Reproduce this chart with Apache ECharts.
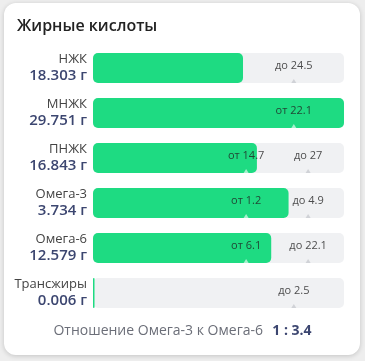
<!DOCTYPE html>
<html>
<head>
<meta charset="utf-8">
<script src="https://cdn.jsdelivr.net/npm/echarts@6/dist/echarts.min.js"></script>
<style>
html,body{margin:0;padding:0;background:#eeeeee;}
#chart{width:365px;height:361px;}
</style>
</head>
<body>
<div id="chart"></div>
<script>
const titleText = 'Жирные кислоты';
const categories = ['НЖК', 'МНЖК', 'ПНЖК', 'Омега-3', 'Омега-6', 'Трансжиры'];
const values = [18.303, 29.751, 16.843, 3.734, 12.579, 0.006];
const unit = 'г';
const lowerBounds = [null, 22.1, 14.7, 1.2, 6.1, null];
const upperBounds = [24.5, null, 27, 4.9, 22.1, 2.5];
const ratioLabel = 'Отношение Омега-3 к Омега-6';
const ratioValue = '1 : 3.4';

// scale positions of norm marks on the track (fraction of track)
function frac(v, lo, hi) {
  let f;
  if (lo != null && hi != null) {
    const pLo = 0.61, pHi = 0.857;
    if (v <= lo) f = v / lo * pLo;
    else if (v <= hi) f = pLo + (v - lo) / (hi - lo) * (pHi - pLo);
    else f = pHi + (v - hi) / hi * (1 - pHi);
  } else {
    const ref = lo != null ? lo : hi;
    f = v / ref * 0.8;
  }
  return Math.min(1, f);
}

const barData = values.map((v, i) => frac(v, lowerBounds[i], upperBounds[i]));
const markData = [];
categories.forEach((c, i) => {
  const lo = lowerBounds[i], hi = upperBounds[i];
  if (lo != null) markData.push({ value: [frac(lo, lo, hi), i], txt: 'от ' + lo, onBar: frac(lo, lo, hi) < barData[i] });
  if (hi != null) markData.push({ value: [frac(hi, lo, hi), i], txt: 'до ' + hi, onBar: frac(hi, lo, hi) < barData[i] });
});

const chart = echarts.init(document.getElementById('chart'), null, { renderer: 'canvas' });
const FONT = '"Open Sans", "Noto Sans", sans-serif';
chart.setOption({
  animation: false,
  textStyle: { fontFamily: FONT },
  graphic: [{
    type: 'rect', z: -10, silent: true,
    shape: { x: 4, y: 3, width: 356, height: 352, r: 12 },
    style: { fill: '#ffffff', shadowBlur: 5, shadowColor: 'rgba(0,0,0,0.18)', shadowOffsetY: 1 }
  }],
  title: [{
    text: titleText, left: 17, top: 18, padding: 0,
    textStyle: { fontFamily: FONT, fontSize: 16, fontWeight: 600, color: '#222222' }
  }, {
    text: '{a|' + ratioLabel + '}  {b|' + ratioValue + '}',
    left: 'center', top: 322, padding: 0,
    textStyle: {
      fontWeight: 'normal',
      rich: {
        a: { fontFamily: FONT, fontSize: 14, fontWeight: 'normal', color: '#6b6e78' },
        b: { fontFamily: FONT, fontSize: 14, fontWeight: 700, color: '#3c4670' }
      }
    }
  }],
  grid: { left: 93, right: 21, top: 45.5, height: 270 },
  xAxis: { type: 'value', min: 0, max: 1, show: false },
  yAxis: {
    type: 'category', data: categories, inverse: true,
    axisLine: { show: false }, axisTick: { show: false },
    axisLabel: {
      margin: 6, align: 'right',
      formatter: (c, i) => '{n|' + c + '}\n{v|' + values[i].toFixed(3) + ' ' + unit + '}',
      rich: {
        n: { fontFamily: FONT, fontSize: 13, color: '#444444', lineHeight: 16, align: 'right' },
        v: { fontFamily: FONT, fontSize: 15, fontWeight: 600, color: '#3c4670', lineHeight: 17, align: 'right' }
      }
    }
  },
  series: [{
    type: 'bar', data: barData, barWidth: 30, barMinHeight: 1.5,
    itemStyle: { color: '#1edb82', borderRadius: 5 },
    showBackground: true,
    backgroundStyle: { color: '#f0f1f3', borderRadius: 5 },
    z: 1
  }, {
    type: 'scatter', z: 3,
    data: markData.map(d => ({ value: d.value, itemStyle: { color: d.onBar ? 'rgba(255,255,255,0.75)' : '#c8cbd0' } })),
    symbol: 'triangle', symbolSize: [5, 4], symbolOffset: [0, 13],
    silent: true
  }, {
    type: 'scatter', z: 4,
    data: markData.map(d => ({ value: d.value, txt: d.txt })),
    symbol: 'circle', symbolSize: 1,
    itemStyle: { color: 'rgba(0,0,0,0)' },
    label: {
      show: true, position: 'inside', offset: [0, -2],
      formatter: p => p.data.txt,
      fontFamily: FONT, fontSize: 11, color: '#222222'
    },
    silent: true
  }]
});
</script>
</body>
</html>
